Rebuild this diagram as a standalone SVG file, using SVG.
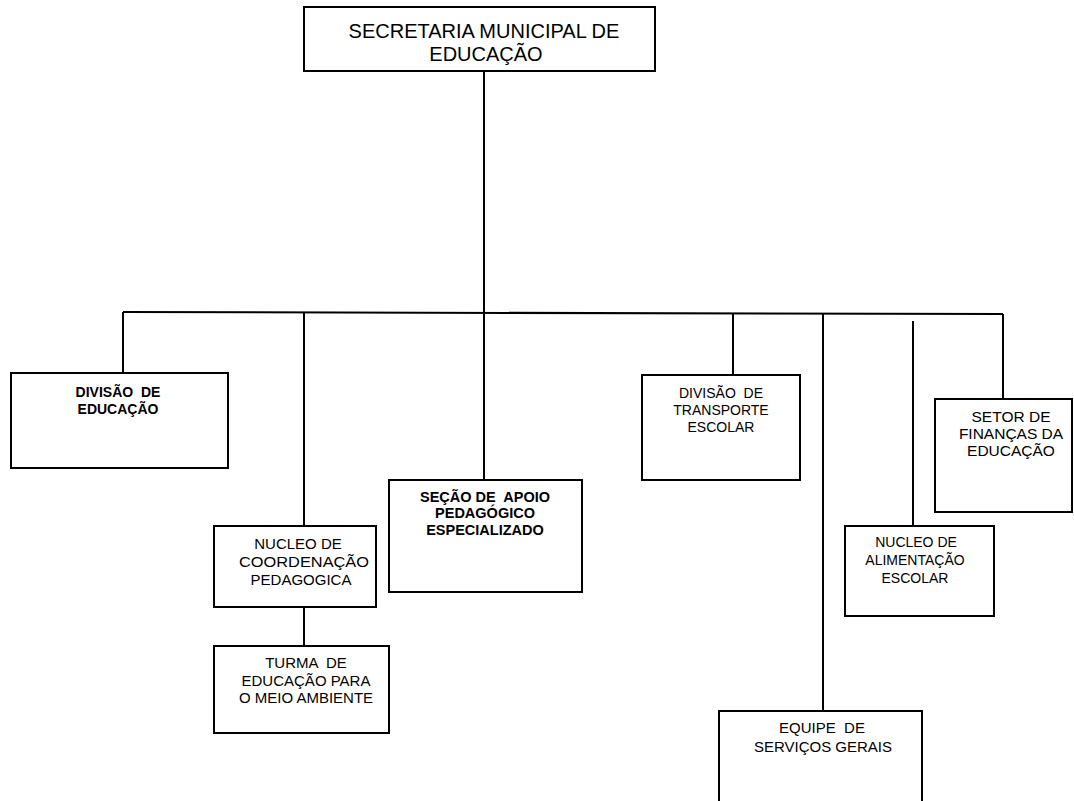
<svg xmlns="http://www.w3.org/2000/svg" width="1074" height="801" viewBox="0 0 1074 801">
<style>
.box{fill:#fff;stroke:#000;stroke-width:2}
.ln{stroke:#000;stroke-width:2;fill:none}
text{font-family:"Liberation Sans",Arial,sans-serif;fill:#000;text-anchor:middle;white-space:pre}
.b{font-weight:bold}
</style>
<rect width="1074" height="801" fill="#fff"/>
<g id="connectors">
<path class="ln" d="M484 71V312"/>
<path class="ln" d="M123 312L1003 314"/>
<path class="ln" d="M123 312V373"/>
<path class="ln" d="M304 312V526"/>
<path class="ln" d="M304 607V646"/>
<path class="ln" d="M484 312V480"/>
<path class="ln" d="M733 313V375"/>
<path class="ln" d="M823 313V711"/>
<path class="ln" d="M913 321V526"/>
<path class="ln" d="M1003 314V399"/>
</g>
<g id="secretaria">
<rect class="box" x="304" y="7" width="351" height="64"/>
<text x="484" y="38" font-size="20">SECRETARIA MUNICIPAL DE</text>
<text x="486" y="61" font-size="20">EDUCAÇÃO</text>
</g>
<g id="divisao-educacao">
<rect class="box" x="11" y="373" width="217" height="95"/>
<text class="b" x="118" y="397" font-size="14" xml:space="preserve">DIVISÃO  DE</text>
<text class="b" x="118" y="414" font-size="14">EDUCAÇÃO</text>
</g>
<g id="nucleo-coordenacao">
<rect class="box" x="214" y="526" width="162" height="81"/>
<text x="298" y="549" font-size="15">NUCLEO DE</text>
<text x="304" y="567" font-size="15" textLength="130" lengthAdjust="spacingAndGlyphs">COORDENAÇÃO</text>
<text x="301" y="585" font-size="15">PEDAGOGICA</text>
</g>
<g id="turma">
<rect class="box" x="214" y="646" width="175" height="87"/>
<text x="306" y="668" font-size="15" xml:space="preserve">TURMA  DE</text>
<text x="306" y="686" font-size="15">EDUCAÇÃO PARA</text>
<text x="306" y="703" font-size="15">O MEIO AMBIENTE</text>
</g>
<g id="secao-apoio">
<rect class="box" x="389" y="480" width="193" height="112"/>
<text class="b" x="485" y="502" font-size="14.5" xml:space="preserve">SEÇÃO DE  APOIO</text>
<text class="b" x="485" y="518" font-size="14.5">PEDAGÓGICO</text>
<text class="b" x="485" y="535" font-size="14.5">ESPECIALIZADO</text>
</g>
<g id="divisao-transporte">
<rect class="box" x="642" y="375" width="158" height="105"/>
<text x="721" y="398" font-size="14" xml:space="preserve">DIVISÃO  DE</text>
<text x="721" y="415" font-size="14">TRANSPORTE</text>
<text x="721" y="432" font-size="14">ESCOLAR</text>
</g>
<g id="equipe">
<rect class="box" x="719" y="711" width="203" height="100"/>
<text x="822" y="733" font-size="15" xml:space="preserve">EQUIPE  DE</text>
<text x="823" y="752" font-size="15">SERVIÇOS GERAIS</text>
</g>
<g id="nucleo-alimentacao">
<rect class="box" x="845" y="526" width="149" height="90"/>
<text x="916" y="547" font-size="14">NUCLEO DE</text>
<text x="915" y="565" font-size="14">ALIMENTAÇÃO</text>
<text x="915" y="583" font-size="14">ESCOLAR</text>
</g>
<g id="setor-financas">
<rect class="box" x="935" y="399" width="137" height="113"/>
<text x="1011" y="422" font-size="15.5">SETOR DE</text>
<text x="1011" y="439" font-size="15.5">FINANÇAS DA</text>
<text x="1011" y="456" font-size="15.5">EDUCAÇÃO</text>
</g>
</svg>
